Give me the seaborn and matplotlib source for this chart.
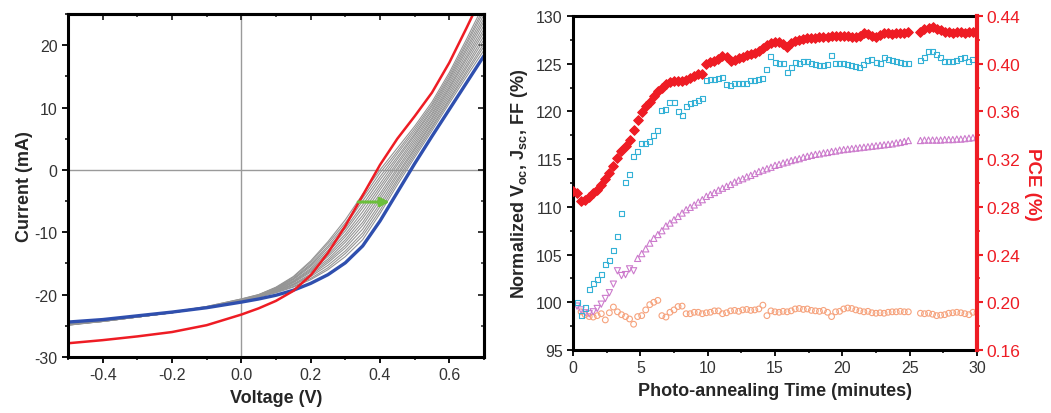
import numpy as np
import pandas as pd
import matplotlib
matplotlib.use("Agg")
import matplotlib.pyplot as plt
import seaborn as sns
from matplotlib.ticker import MultipleLocator, FormatStrFormatter

# ---------------- Left panel data: I-V curves ----------------
voltage = [-0.5, -0.4, -0.3, -0.2, -0.1, 0.0, 0.05, 0.1, 0.15, 0.2,
           0.25, 0.3, 0.35, 0.4, 0.45, 0.5, 0.55, 0.6, 0.65, 0.7]
red_current = [-27.8, -27.3, -26.7, -26.0, -24.9, -23.2, -22.2, -21.0, -19.4, -16.9,
               -13.3, -9.0, -4.1, 0.8, 5.0, 8.6, 12.4, 17.2, 22.8, 28.6]
blue_current = [-24.4, -24.0, -23.4, -22.8, -22.1, -21.2, -20.7, -20.1, -19.3, -18.2,
                -16.8, -14.9, -12.2, -8.2, -3.6, 1.0, 5.4, 9.7, 14.0, 18.3]
gray_currents = [
    [-24.6, -24.1, -23.5, -22.8, -21.9, -20.7, -20.0, -18.8, -17.1, -14.6, -11.5, -8.0, -3.9, 0.0, 3.5, 7.0, 10.9, 15.6, 21.0, 26.6],
    [-24.7, -24.1, -23.5, -22.8, -21.9, -20.7, -20.0, -18.9, -17.2, -14.8, -11.8, -8.5, -4.5, -0.5, 3.0, 6.6, 10.5, 15.2, 20.5, 26.0],
    [-24.7, -24.2, -23.5, -22.8, -22.0, -20.8, -20.1, -18.9, -17.4, -15.1, -12.2, -8.9, -5.0, -1.1, 2.6, 6.2, 10.2, 14.8, 20.1, 25.5],
    [-24.7, -24.2, -23.6, -22.9, -22.0, -20.8, -20.1, -19.0, -17.5, -15.3, -12.5, -9.4, -5.6, -1.6, 2.1, 5.8, 9.8, 14.5, 19.6, 24.9],
    [-24.8, -24.2, -23.6, -22.9, -22.0, -20.8, -20.1, -19.1, -17.6, -15.5, -12.9, -9.8, -6.1, -2.2, 1.7, 5.5, 9.5, 14.1, 19.2, 24.3],
    [-24.8, -24.2, -23.6, -22.9, -22.0, -20.9, -20.2, -19.1, -17.8, -15.8, -13.2, -10.3, -6.7, -2.7, 1.2, 5.1, 9.1, 13.7, 18.7, 23.8],
    [-24.8, -24.3, -23.6, -22.9, -22.0, -20.9, -20.2, -19.2, -17.9, -16.0, -13.6, -10.7, -7.3, -3.2, 0.8, 4.7, 8.8, 13.3, 18.2, 23.2],
    [-24.8, -24.3, -23.6, -22.9, -22.1, -20.9, -20.2, -19.3, -18.0, -16.2, -13.9, -11.2, -7.8, -3.8, 0.3, 4.3, 8.4, 13.0, 17.8, 22.6],
    [-24.8, -24.3, -23.6, -22.9, -22.1, -20.9, -20.2, -19.4, -18.1, -16.4, -14.3, -11.6, -8.4, -4.3, -0.1, 3.9, 8.1, 12.6, 17.3, 22.1],
    [-24.9, -24.3, -23.6, -22.9, -22.1, -21.0, -20.3, -19.4, -18.3, -16.7, -14.6, -12.1, -8.9, -4.8, -0.6, 3.5, 7.7, 12.2, 16.8, 21.5],
    [-24.9, -24.3, -23.6, -22.9, -22.1, -21.0, -20.3, -19.5, -18.4, -16.9, -14.9, -12.5, -9.5, -5.4, -1.0, 3.2, 7.4, 11.8, 16.4, 20.9],
    [-24.9, -24.2, -23.5, -22.8, -22.0, -21.0, -20.3, -19.6, -18.5, -17.1, -15.3, -13.0, -10.1, -5.9, -1.5, 2.8, 7.0, 11.4, 15.9, 20.3],
    [-24.8, -24.2, -23.5, -22.8, -22.0, -21.0, -20.4, -19.6, -18.7, -17.4, -15.7, -13.4, -10.6, -6.5, -1.9, 2.4, 6.7, 11.1, 15.5, 19.8],
    [-24.8, -24.2, -23.5, -22.8, -22.0, -21.0, -20.4, -19.7, -18.8, -17.6, -16.0, -13.9, -11.2, -7.0, -2.4, 2.0, 6.3, 10.7, 15.0, 19.2],
]
arrow_start = (0.337, -5.15)
arrow_end = (0.428, -5.15)

# ---------------- Right panel data: photo-annealing ----------------
time_a = np.round(np.arange(0.0, 24.95, 0.3), 1)    # 0.0 ... 24.9
time_b = np.round(np.arange(25.8, 30.05, 0.3), 1)   # 25.8 ... 30.0

pce_a = [0.2936, 0.2912, 0.2848, 0.2856, 0.2880, 0.2912, 0.2944, 0.2984, 0.3032, 0.3080,
         0.3144, 0.3208, 0.3264, 0.3312, 0.3360, 0.3440, 0.3528, 0.3592, 0.3648, 0.3680,
         0.3728, 0.3768, 0.3800, 0.3832, 0.3848, 0.3856, 0.3856, 0.3852, 0.3864, 0.3880,
         0.3896, 0.3912, 0.3912, 0.4000, 0.4016, 0.4024, 0.4040, 0.4064, 0.4056, 0.4024,
         0.4032, 0.4044, 0.4056, 0.4072, 0.4080, 0.4088, 0.4104, 0.4128, 0.4160, 0.4176,
         0.4184, 0.4184, 0.4168, 0.4136, 0.4176, 0.4192, 0.4200, 0.4208, 0.4212, 0.4216,
         0.4216, 0.4220, 0.4224, 0.4224, 0.4228, 0.4232, 0.4236, 0.4232, 0.4228, 0.4224,
         0.4220, 0.4232, 0.4256, 0.4248, 0.4232, 0.4220, 0.4240, 0.4256, 0.4256, 0.4252,
         0.4256, 0.4256, 0.4260, 0.4264]
pce_b = [0.4264, 0.4288, 0.4300, 0.4304, 0.4292, 0.4280, 0.4268, 0.4264, 0.4260, 0.4264,
         0.4264, 0.4260, 0.4264, 0.4264, 0.4264]

jsc_a = [np.nan, 100.0, 98.6, 99.4, 101.3, 102.0, 102.4, 102.9, 104.0, 104.4,
         105.4, 106.9, 109.3, 112.5, 113.4, 115.3, 115.8, 116.6, 116.6, 116.8,
         117.5, 118.0, 120.1, 120.2, 120.95, 120.9, 120.0, 119.55, 120.5, 120.8,
         120.95, 121.1, 121.4, 123.2, 123.3, 123.3, 123.4, 123.6, 122.8, 122.7,
         122.9, 122.95, 122.95, 122.95, 123.2, 123.2, 123.3, 123.5, 124.4, 125.8,
         125.15, 125.0, 125.0, 124.1, 124.55, 125.1, 125.05, 125.25, 125.2, 125.05,
         124.9, 124.8, 124.85, 124.9, 125.85, 125.05, 125.07, 125.05, 124.95, 124.85,
         124.7, 124.6, 124.9, 125.35, 125.4, 125.1, 125.0, 125.7, 125.45, 125.3,
         125.2, 125.15, 125.05, 125.0]
jsc_b = [125.3, 125.6, 126.25, 126.25, 126.0, 125.6, 125.25, 125.2, 125.2, 125.3,
         125.5, 125.6, 125.2, 125.4, 125.3]

ff_a = [np.nan, 99.6, 99.2, 98.9, 98.8, 99.0, 99.35, 99.8, 100.4, 101.0,
        101.9, 103.3, 102.8, 102.9, 103.5, 103.3, 104.6, 105.1, 105.6, 106.2,
        106.7, 107.1, 107.5, 108.0, 108.3, 108.65, 109.0, 109.35, 109.7, 109.95,
        110.2, 110.5, 110.75, 111.1, 111.3, 111.5, 111.75, 111.95, 112.15, 112.35,
        112.6, 112.8, 112.95, 113.15, 113.3, 113.5, 113.7, 113.85, 114.0, 114.15,
        114.35, 114.45, 114.6, 114.7, 114.85, 114.95, 115.05, 115.2, 115.3, 115.4,
        115.5, 115.55, 115.65, 115.7, 115.8, 115.85, 115.95, 116.0, 116.05, 116.1,
        116.15, 116.2, 116.25, 116.3, 116.35, 116.4, 116.45, 116.5, 116.55, 116.6,
        116.7, 116.75, 116.85, 116.95]
ff_b = [116.95, 117.0, 117.0, 117.0, 117.0, 117.0, 117.05, 117.05, 117.05, 117.1,
        117.1, 117.15, 117.2, 117.25, 117.3]
ff_early_count = 16   # first points drawn as down-triangles

voc_a = [np.nan, np.nan, 99.0, 98.7, 98.5, 98.45, 98.6, 98.8, 98.15, 98.9,
         99.5, 99.0, 98.7, 98.5, 98.25, 97.7, 98.5, 98.6, 99.2, 99.75,
         100.0, 100.2, 98.6, 98.45, 98.95, 99.2, 99.55, 99.6, 98.8, 98.8,
         98.95, 98.95, 98.8, 98.9, 98.95, 99.1, 99.1, 98.8, 98.9, 99.1,
         99.15, 99.05, 99.2, 99.25, 99.15, 99.2, 99.3, 99.7, 98.6, 99.1,
         99.0, 98.95, 99.05, 99.0, 99.1, 99.3, 99.35, 99.25, 99.3, 99.15,
         99.1, 99.05, 99.15, 98.95, 98.5, 99.0, 99.05, 99.3, 99.4, 99.35,
         99.2, 99.1, 99.0, 99.05, 98.9, 98.85, 98.9, 98.85, 98.95, 99.0,
         99.0, 99.05, 99.0, 99.0]
voc_b = [98.85, 98.8, 98.85, 98.75, 98.6, 98.65, 98.7, 98.85, 98.9, 98.95,
         98.9, 98.8, 98.7, 98.95, 98.9]

# ---------------- Styling ----------------
sns.set_theme(style="ticks")
plt.rcParams['font.family'] = ['Liberation Sans', 'DejaVu Sans']
plt.rcParams['axes.unicode_minus'] = False
plt.rcParams['mathtext.fontset'] = 'custom'
plt.rcParams['mathtext.rm'] = 'Liberation Sans:bold'
plt.rcParams['mathtext.bf'] = 'Liberation Sans:bold'
plt.rcParams['mathtext.it'] = 'Liberation Sans:bold'
plt.rcParams['mathtext.default'] = 'bf'

TICK_COLOR = '#333333'
RED = '#ee1c24'
GRAY = '#959595'
BLUE = '#2f4fae'
CYAN = '#33b1d6'
MAGENTA = '#cc7acc'
ORANGE = '#f6a27c'
GREEN = '#6cbf3c'
SPINE_W = 2.2
TICK_FS = 11.5
LABEL_FS = 13

fig = plt.figure(figsize=(10.51, 4.14), dpi=100)
ax1 = fig.add_axes([0.0647, 0.1353, 0.3958, 0.8285])
ax2 = fig.add_axes([0.5452, 0.1522, 0.3844, 0.8068])
ax3 = ax2.twinx()

# ---- left panel ----
gray_df = pd.DataFrame(
    [(k, v, i) for k, row in enumerate(gray_currents) for v, i in zip(voltage, row)],
    columns=['curve', 'V', 'I'])
ax1.axhline(0, color='#9a9a9a', lw=1.0, zorder=0)
ax1.axvline(0, color='#9a9a9a', lw=1.0, zorder=0)
sns.lineplot(data=gray_df, x='V', y='I', units='curve', estimator=None, sort=False,
             color=GRAY, lw=0.8, ax=ax1, legend=False)
sns.lineplot(x=voltage, y=blue_current, sort=False, color=BLUE, lw=2.4, ax=ax1)
sns.lineplot(x=voltage, y=red_current, sort=False, color=RED, lw=1.8, ax=ax1)
ax1.annotate('', xy=arrow_end, xytext=arrow_start,
             arrowprops=dict(arrowstyle='-|>', color=GREEN, lw=2.2, mutation_scale=13,
                             shrinkA=0, shrinkB=0))
ax1.set_xlim(-0.5, 0.7)
ax1.set_ylim(-30, 25)
ax1.xaxis.set_major_locator(MultipleLocator(0.2))
ax1.xaxis.set_minor_locator(MultipleLocator(0.1))
ax1.yaxis.set_major_locator(MultipleLocator(10))
ax1.yaxis.set_minor_locator(MultipleLocator(5))
ax1.xaxis.set_major_formatter(FormatStrFormatter('%.1f'))
ax1.set_xlabel('Voltage (V)', fontsize=LABEL_FS, fontweight='bold', labelpad=5)
ax1.set_ylabel('Current (mA)', fontsize=LABEL_FS, fontweight='bold', labelpad=1)
for s in ax1.spines.values():
    s.set_linewidth(SPINE_W)
    s.set_color('black')
    s.set_visible(True)
ax1.tick_params(which='major', direction='out', length=4.5, width=1.3, labelsize=TICK_FS,
                labelcolor=TICK_COLOR, color='black', top=False, right=False, pad=3)
ax1.tick_params(which='minor', direction='out', length=2.5, width=1.1, color='black',
                top=False, right=False)
sec_top = ax1.secondary_xaxis('top')
sec_top.xaxis.set_major_locator(MultipleLocator(0.2))
sec_top.xaxis.set_minor_locator(MultipleLocator(0.1))
sec_top.tick_params(which='major', direction='in', length=4.5, width=1.3, labeltop=False)
sec_top.tick_params(which='minor', direction='in', length=2.5, width=1.1)
sec_top.spines['top'].set_linewidth(SPINE_W)
sec_right = ax1.secondary_yaxis('right')
sec_right.yaxis.set_major_locator(MultipleLocator(10))
sec_right.yaxis.set_minor_locator(MultipleLocator(5))
sec_right.tick_params(which='major', direction='in', length=4.5, width=1.3, labelright=False)
sec_right.tick_params(which='minor', direction='in', length=2.5, width=1.1)
sec_right.spines['right'].set_linewidth(SPINE_W)

# ---- right panel ----
t_all = np.concatenate([time_a, time_b])
jsc_all = np.array(jsc_a + jsc_b)
ff_all = np.array(ff_a + ff_b)
voc_all = np.array(voc_a + voc_b)
pce_all = np.array(pce_a + pce_b)

sns.scatterplot(x=t_all, y=voc_all, marker='o', s=17, facecolor='none',
                edgecolor=ORANGE, linewidth=0.8, ax=ax2)
sns.scatterplot(x=t_all[:ff_early_count], y=ff_all[:ff_early_count], marker='v', s=20,
                facecolor='none', edgecolor=MAGENTA, linewidth=0.8, ax=ax2)
sns.scatterplot(x=t_all[ff_early_count:], y=ff_all[ff_early_count:], marker='^', s=20,
                facecolor='none', edgecolor=MAGENTA, linewidth=0.8, ax=ax2)
sns.scatterplot(x=t_all, y=jsc_all, marker='s', s=13, facecolor='none',
                edgecolor=CYAN, linewidth=0.8, ax=ax2)
sns.scatterplot(x=t_all, y=pce_all, marker='D', s=24, color=RED, edgecolor=RED,
                linewidth=0.8, ax=ax3)

ax2.set_xlim(0, 30)
ax2.set_ylim(95, 130)
ax3.set_ylim(0.16, 0.44)
ax2.xaxis.set_major_locator(MultipleLocator(5))
ax2.xaxis.set_minor_locator(MultipleLocator(2.5))
ax2.yaxis.set_major_locator(MultipleLocator(5))
ax2.yaxis.set_minor_locator(MultipleLocator(2.5))
ax3.yaxis.set_major_locator(MultipleLocator(0.04))
ax3.yaxis.set_minor_locator(MultipleLocator(0.02))
ax3.yaxis.set_major_formatter(FormatStrFormatter('%.2f'))

ax2.set_xlabel('Photo-annealing Time (minutes)', fontsize=LABEL_FS, fontweight='bold',
               labelpad=5)
ax2.set_ylabel(r'Normalized V$_{oc}$, J$_{sc}$, FF (%)', fontsize=LABEL_FS,
               fontweight='bold', labelpad=4)
ax3.set_ylabel('PCE (%)', fontsize=13.5, fontweight='bold', color=RED, rotation=270,
               labelpad=15)

for name in ['left', 'top', 'bottom']:
    ax2.spines[name].set_linewidth(SPINE_W)
    ax2.spines[name].set_color('black')
    ax2.spines[name].set_visible(True)
ax2.spines['right'].set_visible(False)
for name in ['left', 'top', 'bottom']:
    ax3.spines[name].set_visible(False)
ax3.spines['right'].set_visible(True)
ax3.spines['right'].set_linewidth(3.0)
ax3.spines['right'].set_color(RED)

ax2.tick_params(which='major', direction='out', length=4.5, width=1.3, labelsize=TICK_FS,
                labelcolor=TICK_COLOR, color='black', top=False, right=False, pad=3)
ax2.tick_params(which='minor', direction='out', length=2.5, width=1.1, color='black',
                top=False, right=False)
ax3.tick_params(axis='y', which='major', direction='out', length=4.5, width=1.5,
                labelsize=12.5, color=RED, labelcolor=RED, pad=2)
ax3.tick_params(axis='y', which='minor', direction='out', length=2.5, width=1.2, color=RED)

fig.savefig('out.png', dpi=100)
